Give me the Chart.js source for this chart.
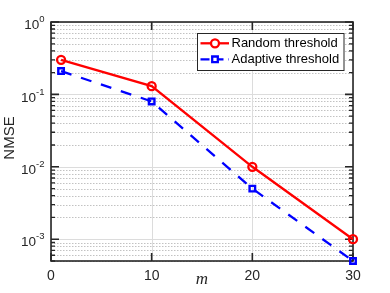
<!DOCTYPE html>
<html><head><meta charset="utf-8">
<script src="https://cdn.jsdelivr.net/npm/chart.js@4"></script>
<style>html,body{margin:0;padding:0;background:#fff}#c{display:block}</style>
</head><body>
<div style="width:390px;height:293px"><canvas id="c" width="390" height="293"></canvas></div>
<script>
const mValues = [1, 10, 20, 30];
const randomThreshold = [0.3, 0.13, 0.01, 0.001];
const adaptiveThreshold = [0.21, 0.08, 0.005, 0.0005];
const seriesLabels = ['Random threshold', 'Adaptive threshold'];
const xTickValues = [0, 10, 20, 30];
const xTickLabels = ['0', '10', '20', '30'];
const yTickValues = [1e-3, 1e-2, 1e-1, 1];
const yTickExponents = ['-3', '-2', '-1', '0'];
const yMin = 5e-4, yMax = 1;
const xTitle = 'm';
const yTitle = 'NMSE';

const AX = '#262626';
const SANS = '"Liberation Sans", Arial, Helvetica, sans-serif';

function minorValues() {
  const out = [];
  for (let e = -4; e <= 0; e++) {
    for (let k = 2; k <= 9; k++) {
      const v = k * Math.pow(10, e);
      if (v > yMin * 0.999 && v < yMax) out.push(v);
    }
  }
  return out;
}

const axesPlugin = {
  id: 'axesPlugin',
  beforeDatasetsDraw(chart) {
    const { ctx, chartArea: a, scales: { x, y } } = chart;
    ctx.save();
    // minor grid (dotted)
    ctx.strokeStyle = '#c2c2c2';
    ctx.lineWidth = 1;
    ctx.setLineDash([1.5, 1.5]);
    minorValues().forEach(v => {
      const py = Math.round(y.getPixelForValue(v)) + 0.5;
      ctx.beginPath(); ctx.moveTo(a.left, py); ctx.lineTo(a.right, py); ctx.stroke();
    });
    ctx.setLineDash([]);
    // major grid
    ctx.strokeStyle = '#dcdcdc';
    ctx.lineWidth = 1;
    yTickValues.forEach(v => {
      const py = Math.round(y.getPixelForValue(v)) + 0.5;
      ctx.beginPath(); ctx.moveTo(a.left, py); ctx.lineTo(a.right, py); ctx.stroke();
    });
    xTickValues.forEach(v => {
      const px = Math.round(x.getPixelForValue(v)) + 0.5;
      ctx.beginPath(); ctx.moveTo(px, a.top); ctx.lineTo(px, a.bottom); ctx.stroke();
    });
    // frame
    ctx.strokeStyle = AX;
    ctx.lineWidth = 1.6;
    ctx.strokeRect(a.left, a.top, a.right - a.left, a.bottom - a.top);
    // ticks
    ctx.lineWidth = 1.6;
    const major = 8, minor = 4;
    yTickValues.forEach(v => {
      const py = y.getPixelForValue(v);
      ctx.beginPath();
      ctx.moveTo(a.left, py); ctx.lineTo(a.left + major, py);
      ctx.moveTo(a.right, py); ctx.lineTo(a.right - major, py);
      ctx.stroke();
    });
    ctx.lineWidth = 1.3;
    minorValues().forEach(v => {
      const py = y.getPixelForValue(v);
      ctx.beginPath();
      ctx.moveTo(a.left, py); ctx.lineTo(a.left + minor, py);
      ctx.moveTo(a.right, py); ctx.lineTo(a.right - minor, py);
      ctx.stroke();
    });
    ctx.lineWidth = 1.6;
    xTickValues.forEach(v => {
      const px = x.getPixelForValue(v);
      ctx.beginPath();
      ctx.moveTo(px, a.bottom); ctx.lineTo(px, a.bottom - major);
      ctx.moveTo(px, a.top); ctx.lineTo(px, a.top + major);
      ctx.stroke();
    });
    ctx.restore();
  },
  afterDraw(chart) {
    const { ctx, chartArea: a, scales: { x, y } } = chart;
    ctx.save();
    ctx.fillStyle = AX;
    // x tick labels
    ctx.font = '14px ' + SANS;
    ctx.textAlign = 'center';
    ctx.textBaseline = 'middle';
    xTickValues.forEach((v, i) => {
      ctx.fillText(xTickLabels[i], x.getPixelForValue(v), a.bottom + 15.5);
    });
    // y tick labels 10^e
    yTickValues.forEach((v, i) => {
      const py = y.getPixelForValue(v);
      ctx.font = '9.5px ' + SANS;
      const ew = ctx.measureText(yTickExponents[i]).width;
      ctx.font = '13.5px ' + SANS;
      const bw = ctx.measureText('10').width;
      const right = a.left - 6.5;
      ctx.textAlign = 'left';
      ctx.textBaseline = 'middle';
      ctx.fillText('10', right - ew - bw, py + 3.5);
      ctx.font = '9.5px ' + SANS;
      ctx.fillText(yTickExponents[i], right - ew, py - 2.5);
    });
    // axis titles
    ctx.font = 'italic 17px "Liberation Serif", "Times New Roman", serif';
    ctx.textAlign = 'center';
    ctx.textBaseline = 'middle';
    ctx.fillText(xTitle, (a.left + a.right) / 2, a.bottom + 19);
    ctx.save();
    ctx.translate(9.5, 138);
    ctx.rotate(-Math.PI / 2);
    ctx.font = '15px ' + SANS;
    ctx.fillText(yTitle, 0, 0);
    ctx.restore();
    // legend
    const bx = 197.5, by = 33.5, bw2 = 146.5, bh = 37;
    ctx.fillStyle = '#ffffff';
    ctx.fillRect(bx, by, bw2, bh);
    ctx.strokeStyle = AX;
    ctx.lineWidth = 1;
    ctx.strokeRect(bx, by, bw2, bh);
    const ds = chart.data.datasets;
    const rows = [43.3, 59.3];
    rows.forEach((ry, i) => {
      const d = ds[i];
      ctx.strokeStyle = d.borderColor;
      ctx.lineWidth = 2.3;
      ctx.setLineDash(i === 1 ? [9, 5] : []);
      ctx.beginPath(); ctx.moveTo(200.5, ry); ctx.lineTo(229, ry); ctx.stroke();
      ctx.setLineDash([]);
      ctx.beginPath();
      if (d.pointStyle === 'circle') {
        ctx.arc(215, ry, 4, 0, Math.PI * 2);
      } else {
        ctx.rect(212.2, ry - 2.8, 5.6, 5.6);
      }
      ctx.fillStyle = '#ffffff';
      ctx.fill();
      ctx.stroke();
      ctx.fillStyle = '#000000';
      ctx.font = '13px ' + SANS;
      ctx.textAlign = 'left';
      ctx.textBaseline = 'middle';
      ctx.fillText(seriesLabels[i], 231.5, ry + 0.5);
    });
    ctx.restore();
  }
};

new Chart(document.getElementById('c'), {
  type: 'line',
  data: {
    datasets: [
      {
        label: seriesLabels[0],
        data: mValues.map((m, i) => ({ x: m, y: randomThreshold[i] })),
        borderColor: '#ff0000',
        borderWidth: 2.3,
        pointStyle: 'circle',
        pointRadius: 4,
        pointBorderWidth: 2.3,
        pointBorderColor: '#ff0000',
        pointBackgroundColor: 'rgba(0,0,0,0)',
        clip: false,
        tension: 0
      },
      {
        label: seriesLabels[1],
        data: mValues.map((m, i) => ({ x: m, y: adaptiveThreshold[i] })),
        borderColor: '#0000ff',
        borderWidth: 2.3,
        borderDash: [11, 10],
        pointStyle: 'rect',
        pointRadius: 3.9,
        pointBorderWidth: 2.4,
        pointBorderColor: '#0000ff',
        pointBackgroundColor: 'rgba(0,0,0,0)',
        clip: false,
        tension: 0
      }
    ]
  },
  options: {
    responsive: false,
    animation: false,
    devicePixelRatio: 1,
    layout: { padding: { top: 22, right: 37, left: 0, bottom: 0 } },
    plugins: { legend: { display: false }, tooltip: { enabled: false } },
    scales: {
      x: {
        type: 'linear', min: 0, max: 30,
        ticks: { display: false },
        grid: { display: false },
        border: { display: false },
        afterFit: s => { s.height = 32; }
      },
      y: {
        type: 'logarithmic', min: yMin, max: yMax,
        ticks: { display: false },
        grid: { display: false },
        border: { display: false },
        afterFit: s => { s.width = 51; }
      }
    }
  },
  plugins: [axesPlugin]
});
</script>
</body></html>
